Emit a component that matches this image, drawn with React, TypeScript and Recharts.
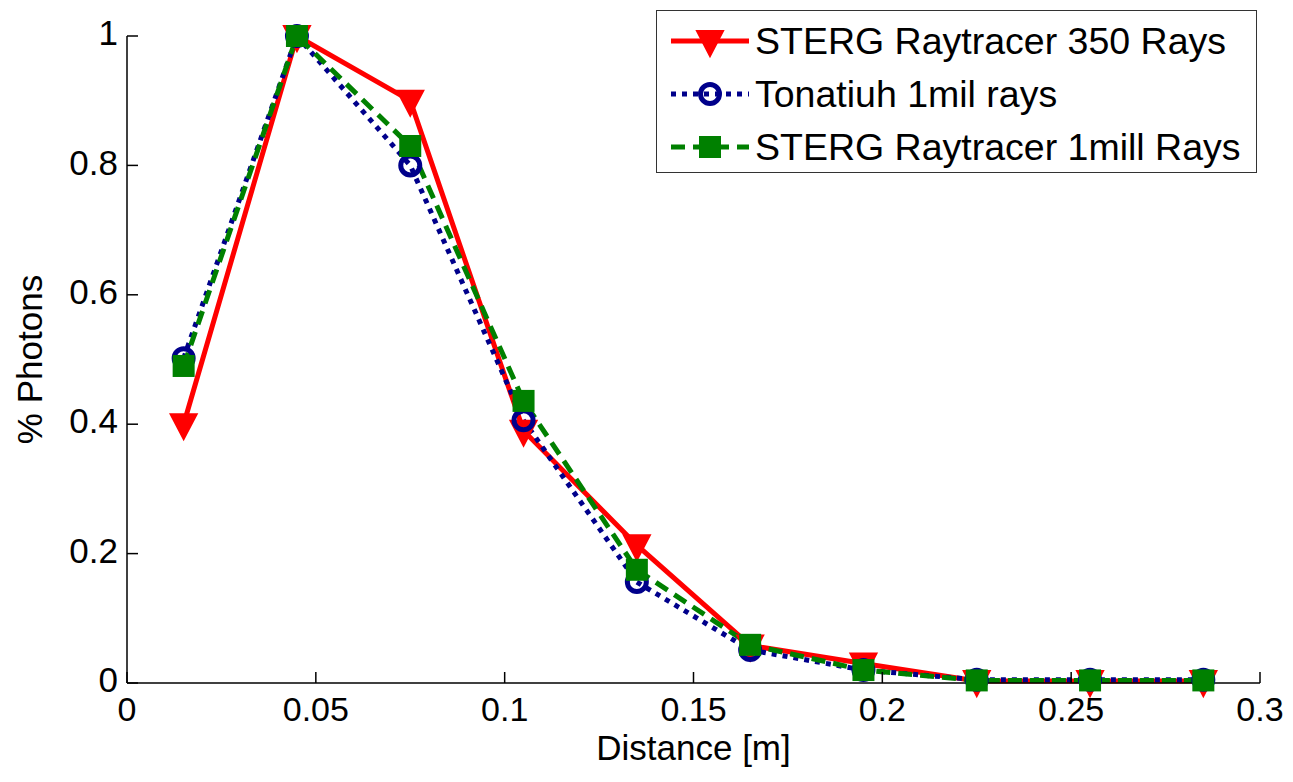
import React from "react";
import { LineChart, Line, XAxis, YAxis, Legend } from "recharts";

const distances = [0.015, 0.045, 0.075, 0.105, 0.135, 0.165, 0.195, 0.225, 0.255, 0.285];
const sterg350 = [0.4, 1.0, 0.9, 0.39, 0.213, 0.058, 0.03, 0.003, 0.003, 0.003];
const tonatiuh = [0.502, 1.0, 0.8, 0.406, 0.156, 0.051, 0.02, 0.005, 0.005, 0.005];
const stergMill = [0.49, 1.0, 0.83, 0.436, 0.175, 0.059, 0.02, 0.004, 0.004, 0.004];

const xTicks = [0, 0.05, 0.1, 0.15, 0.2, 0.25, 0.3];
const yTicks = [0, 0.2, 0.4, 0.6, 0.8, 1];

const RED = "#ff0000";
const BLUE = "#00008b";
const GREEN = "#008000";
const FONT = "'Liberation Sans', Arial, sans-serif";

const data = distances.map((x, i) => ({
  x,
  red: sterg350[i],
  blue: tonatiuh[i],
  green: stergMill[i],
}));

// marker shapes, roughly like matlab's 'v', 'o' and 's'
const Triangle = ({ cx, cy }: { cx: number; cy: number }) => (
  <path
    d={`M${cx - 13},${cy - 10} L${cx + 13},${cy - 10} L${cx},${cy + 15} Z`}
    fill={RED}
    stroke={RED}
    strokeWidth={2}
  />
);

const Circle = ({ cx, cy }: { cx: number; cy: number }) => (
  <circle cx={cx} cy={cy} r={9.5} fill="none" stroke={BLUE} strokeWidth={5} />
);

const Square = ({ cx, cy }: { cx: number; cy: number }) => (
  <rect x={cx - 11} y={cy - 11} width={22} height={22} fill={GREEN} />
);

// eslint-disable-next-line @typescript-eslint/no-explicit-any
const dotOf = (Shape: React.FC<{ cx: number; cy: number }>) => (props: any) => (
  <Shape key={`d-${props.index}`} cx={props.cx} cy={props.cy} />
);

// eslint-disable-next-line @typescript-eslint/no-explicit-any
const XTick = (props: any) => {
  const { x, y, payload } = props;
  return (
    <g>
      <line x1={x} y1={y} x2={x} y2={y - 11} stroke="#000" strokeWidth={1.5} />
      <text
        x={x}
        y={y + 29}
        textAnchor="middle"
        dominantBaseline="middle"
        fontSize={34}
        fontFamily={FONT}
        fill="#000"
      >
        {payload.value}
      </text>
    </g>
  );
};

// eslint-disable-next-line @typescript-eslint/no-explicit-any
const YTick = (props: any) => {
  const { x, y, payload } = props;
  return (
    <g>
      <line x1={x} y1={y} x2={x + 11} y2={y} stroke="#000" strokeWidth={1.5} />
      <text
        x={x - 9}
        y={y}
        textAnchor="end"
        dominantBaseline="middle"
        fontSize={35}
        fontFamily={FONT}
        fill="#000"
      >
        {payload.value}
      </text>
    </g>
  );
};

const legendRows = [
  { label: "STERG Raytracer 350 Rays", color: RED, dash: undefined, Shape: Triangle },
  { label: "Tonatiuh 1mil rays", color: BLUE, dash: "5 6", Shape: Circle },
  { label: "STERG Raytracer 1mill Rays", color: GREEN, dash: "14 8", Shape: Square },
];

const renderLegend = () => (
  <div
    style={{
      border: "1.5px solid #333",
      background: "#fff",
      padding: "3px 0 0 14px",
      boxSizing: "border-box",
      width: 601,
      height: 163,
    }}
  >
    {legendRows.map((r) => (
      <div key={r.label} style={{ display: "flex", alignItems: "center", height: 53 }}>
        <svg width={84} height={40}>
          <line x1={0} y1={20} x2={78} y2={20} stroke={r.color} strokeWidth={5} strokeDasharray={r.dash} />
          <r.Shape cx={39} cy={20} />
        </svg>
        <span style={{ fontFamily: FONT, fontSize: 37.5, color: "#000", lineHeight: "40px" }}>{r.label}</span>
      </div>
    ))}
  </div>
);

export default function App() {
  return (
    <div style={{ position: "absolute", left: 0, top: 0, width: 1293, height: 782, background: "#fff" }}>
      <LineChart
        width={1293}
        height={782}
        data={data}
        margin={{ top: 36, right: 33, left: 27, bottom: 19 }}
      >
        <XAxis
          type="number"
          dataKey="x"
          domain={[0, 0.3]}
          ticks={xTicks}
          interval={0}
          tickSize={0}
          tickMargin={0}
          tick={<XTick />}
          axisLine={{ stroke: "#000", strokeWidth: 1.5 }}
          height={80}
          label={{
            value: "Distance [m]",
            position: "insideBottom",
            offset: 3,
            style: { fontSize: 35, fontFamily: FONT, fill: "#000" },
          }}
        />
        <YAxis
          type="number"
          domain={[0, 1]}
          ticks={yTicks}
          interval={0}
          tickSize={0}
          tickMargin={0}
          tick={<YTick />}
          axisLine={{ stroke: "#000", strokeWidth: 1.5 }}
          width={100}
          label={{
            value: "% Photons",
            angle: -90,
            position: "insideLeft",
            offset: 3,
            style: { fontSize: 35, fontFamily: FONT, fill: "#000", textAnchor: "middle" },
          }}
        />
        <Legend
          layout="vertical"
          align="center"
          verticalAlign="middle"
          content={renderLegend}
          wrapperStyle={{ top: 10, left: 656, width: 601, height: 163 }}
        />
        <Line
          type="linear"
          dataKey="red"
          stroke={RED}
          strokeWidth={5}
          dot={dotOf(Triangle)}
          activeDot={false}
          isAnimationActive={false}
        />
        <Line
          type="linear"
          dataKey="blue"
          stroke={BLUE}
          strokeWidth={5}
          strokeDasharray="5 6"
          dot={dotOf(Circle)}
          activeDot={false}
          isAnimationActive={false}
        />
        <Line
          type="linear"
          dataKey="green"
          stroke={GREEN}
          strokeWidth={5}
          strokeDasharray="14 8"
          dot={dotOf(Square)}
          activeDot={false}
          isAnimationActive={false}
        />
      </LineChart>
    </div>
  );
}
